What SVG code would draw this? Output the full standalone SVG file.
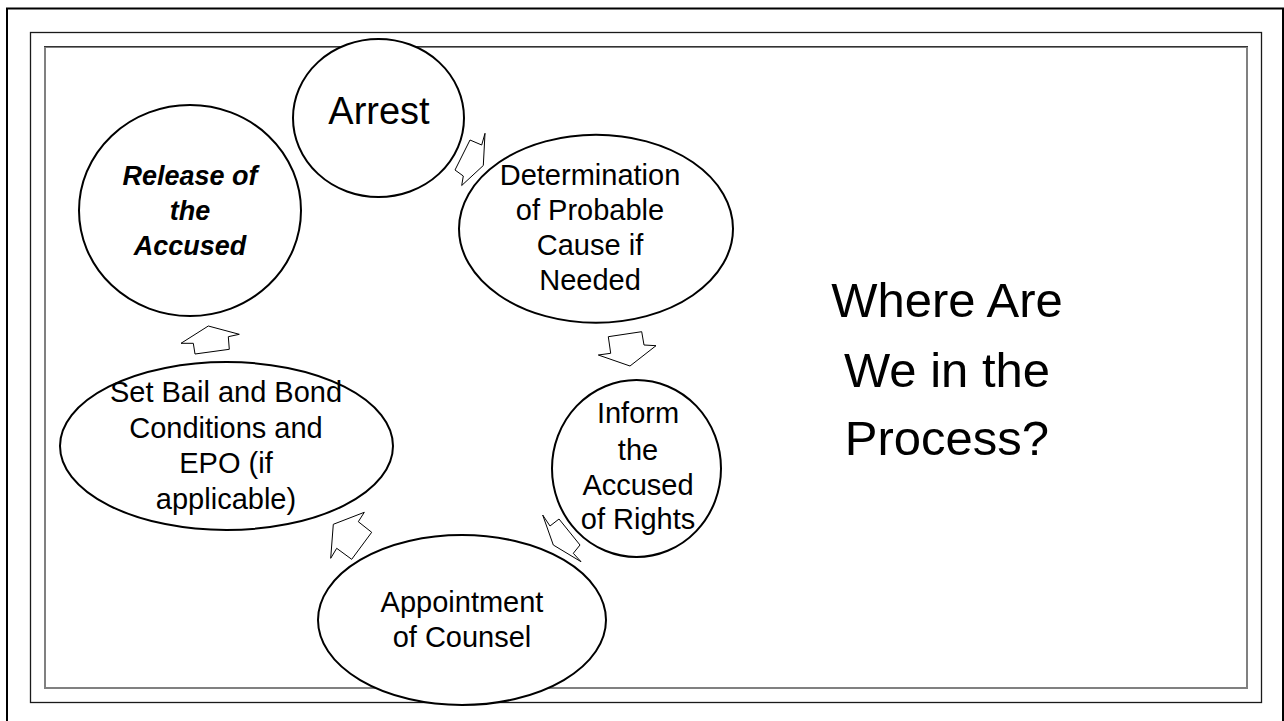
<svg xmlns="http://www.w3.org/2000/svg" width="1284" height="721" viewBox="0 0 1284 721">
  <style>
    .node { fill: #ffffff; stroke: #000000; stroke-width: 2; }
    .arrow { fill: #ffffff; stroke: #000000; stroke-width: 1; stroke-linejoin: miter; }
    .lbl { font-family: "Liberation Sans", Arial, sans-serif; font-size: 29px; fill: #000000; text-anchor: middle; }
    .bi { font-weight: bold; font-style: italic; font-size: 27px; }
    .title { font-family: "Liberation Sans", Arial, sans-serif; font-size: 49px; fill: #000000; text-anchor: middle; }
  </style>
  <rect x="0" y="0" width="1284" height="721" fill="#ffffff"/>
  <g id="frame">
    <rect x="7" y="8.5" width="1276" height="730" fill="none" stroke="#000000" stroke-width="2"/>
    <rect x="30.5" y="32.5" width="1231" height="670" fill="none" stroke="#1a1a1a" stroke-width="1.3"/>
    <rect x="45" y="47" width="1202" height="641" fill="none" stroke="#808080" stroke-width="2"/>
    <line x1="44" y1="46.5" x2="1248" y2="46.5" stroke="#333333" stroke-width="1"/>
  </g>
  <g id="title">
    <text class="title" x="947" y="316.7">Where Are</text>
    <text class="title" x="947" y="386.7">We in the</text>
    <text class="title" x="947" y="455">Process?</text>
  </g>
  <g id="connectors">
    <polygon class="arrow" points="470,140 481.7,145 485,133.3 483.3,165.5 461.7,185.5 463.3,176 455,170"/>
    <polygon class="arrow" points="608.3,336.7 641.7,331.7 644,345 656,345.7 630,366 598.3,355 610.7,353.3"/>
    <polygon class="arrow" points="542.7,515 550,526 559,519 580,545 573.3,553.3 581,561.7 553.3,545"/>
    <polygon class="arrow" points="364.3,512.3 358.3,521.7 371.7,532.3 351.7,559.3 336.7,548.3 330.7,558.3 333.3,524.3"/>
    <polygon class="arrow" points="208.3,326 239.3,334.3 228.3,336.7 229.3,349.3 195,354 193.3,343.3 181,343.3"/>
  </g>
  <g id="node-arrest">
    <ellipse class="node" cx="378.5" cy="118" rx="85.5" ry="79"/>
    <text class="lbl" x="379" y="124" style="font-size:38px">Arrest</text>
  </g>
  <g id="node-determination">
    <ellipse class="node" cx="596" cy="228.75" rx="137" ry="94"/>
    <text class="lbl" x="590" y="185">Determination</text>
    <text class="lbl" x="590" y="220">of Probable</text>
    <text class="lbl" x="590" y="254.5">Cause if</text>
    <text class="lbl" x="590" y="290">Needed</text>
  </g>
  <g id="node-inform">
    <ellipse class="node" cx="636.5" cy="468.5" rx="84.5" ry="88.5"/>
    <text class="lbl" x="638" y="423.3">Inform</text>
    <text class="lbl" x="638" y="459.5">the</text>
    <text class="lbl" x="638" y="494.5">Accused</text>
    <text class="lbl" x="638" y="529">of Rights</text>
  </g>
  <g id="node-appointment">
    <ellipse class="node" cx="462" cy="620" rx="144" ry="85"/>
    <text class="lbl" x="462" y="611.5">Appointment</text>
    <text class="lbl" x="462" y="646.5">of Counsel</text>
  </g>
  <g id="node-setbail">
    <ellipse class="node" cx="226.5" cy="446" rx="166.5" ry="84"/>
    <text class="lbl" x="226" y="402">Set Bail and Bond</text>
    <text class="lbl" x="226" y="437.5">Conditions and</text>
    <text class="lbl" x="226" y="473">EPO (if</text>
    <text class="lbl" x="226" y="508.5">applicable)</text>
  </g>
  <g id="node-release">
    <ellipse class="node" cx="190" cy="210.5" rx="111" ry="105.5"/>
    <text class="lbl bi" x="190" y="184.5">Release of</text>
    <text class="lbl bi" x="190" y="219.5">the</text>
    <text class="lbl bi" x="190" y="254.5">Accused</text>
  </g>
</svg>
